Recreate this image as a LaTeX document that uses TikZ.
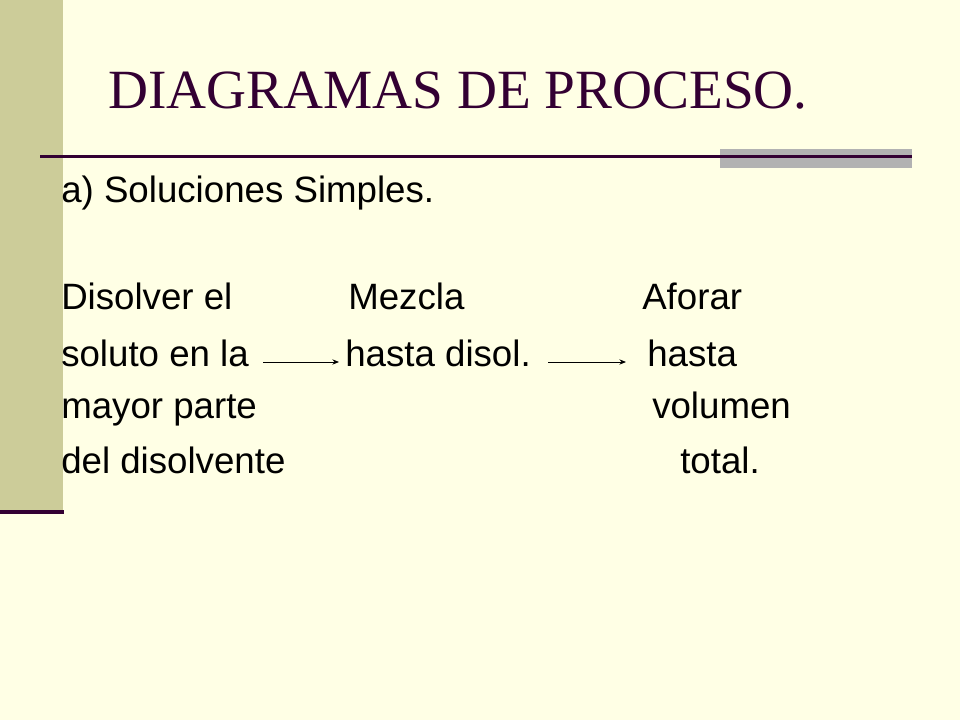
\documentclass[tikz,border=0pt]{standalone}
\usepackage{fontspec}
\setmainfont{Liberation Sans}
\newfontfamily\titlefont{Liberation Serif}
\usetikzlibrary{arrows.meta}
\definecolor{bg}{HTML}{FFFFE5}
\definecolor{barc}{HTML}{CCCC99}
\definecolor{grayc}{HTML}{B2B2B2}
\definecolor{titc}{HTML}{330033}
\tikzset{
  txt/.style={anchor=base west, inner sep=0pt, font=\fontsize{27.5pt}{33pt}\selectfont, text=black},
  flow/.style={-{Stealth[length=5pt,width=4pt]}, line width=0.7pt, black},
}
\begin{document}
\begin{tikzpicture}[x=0.75pt,y=-0.75pt]
\fill[bg] (0,0) rectangle (960,720);
\useasboundingbox (0,0) rectangle (960,720);
\fill[barc] (0,0) rectangle (63,510);
\fill[titc] (0,510) rectangle (64,514);
\fill[grayc] (720,149) rectangle (912,168);
\fill[titc] (40,155.5) rectangle (912,158);
\node[anchor=base west, inner sep=0pt, text=titc, font=\titlefont\fontsize{41.5pt}{48pt}\selectfont] (title) at (108,109) {DIAGRAMAS DE PROCESO.};
\node[txt] (sub) at (61,203) {a) Soluciones Simples.};
\node[txt] (a1) at (61,310) {Disolver el};
\node[txt] (a2) at (61,366) {soluto en la};
\node[txt] (a3) at (61,418) {mayor parte};
\node[txt] (a4) at (61,473) {del disolvente};
\node[txt] (b1) at (348,310) {Mezcla};
\node[txt] (b2) at (345,366) {hasta disol.};
\node[txt] (c1) at (642,310) {Aforar};
\node[txt] (c2) at (647,366) {hasta};
\node[txt] (c3) at (652,418) {volumen};
\node[txt] (c4) at (680,473) {total.};
\coordinate (p1) at (263,362);
\coordinate (p2) at (339,362);
\coordinate (q1) at (548,362);
\coordinate (q2) at (626,362);
\draw[flow] (p1) -- (p2);
\draw[flow] (q1) -- (q2);
\end{tikzpicture}
\end{document}
